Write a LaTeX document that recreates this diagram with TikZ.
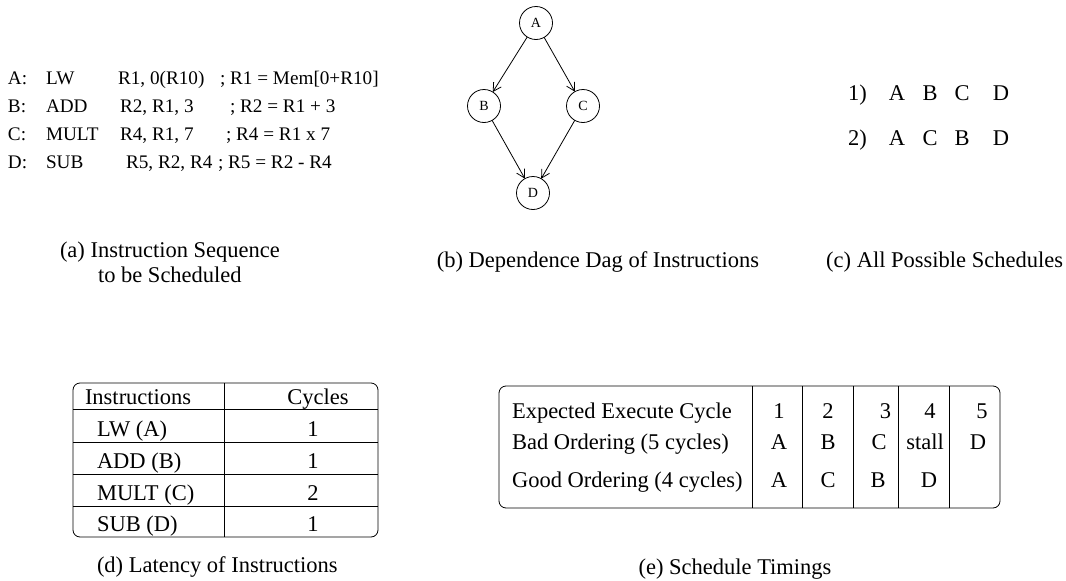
\documentclass[tikz,border=0pt]{standalone}
\usepackage{fontspec}
\setmainfont{Liberation Serif}
\usetikzlibrary{arrows.meta}
\begin{document}
\begin{tikzpicture}[x=1pt,y=-1pt,
  every node/.style={inner sep=0pt,outer sep=0pt},
  code/.style={font=\fontsize{19.2}{23}\selectfont,anchor=base west},
  txt/.style={font=\fontsize{22.5}{26}\selectfont},
  lft/.style={txt,anchor=base west},
  mid/.style={txt,anchor=base},
  rgt/.style={txt,anchor=base east},
  dagnode/.style={circle,draw,line width=0.8pt,minimum size=33pt,font=\fontsize{14}{16}\selectfont},
  dep/.style={line width=0.8pt,-{Straight Barb[length=8pt,width=9pt]}},
  frame/.style={line width=0.8pt,rounded corners=7pt},
  rule/.style={line width=0.8pt}]
\useasboundingbox (0,0) rectangle (1066,581);

% (a) instruction sequence
\node[code] (aL)  at (8,84)   {A:};
\node[code] (aOp) at (46,84)  {LW};
\node[code] (aAr) at (118,84) {R1, 0(R10)};
\node[code] (aCm) at (220,84) {; R1 = Mem[0+R10]};
\node[code] (bL)  at (8,112)   {B:};
\node[code] (bOp) at (46,112)  {ADD};
\node[code] (bAr) at (120,112) {R2, R1, 3};
\node[code] (bCm) at (230,112) {; R2 = R1 + 3};
\node[code] (cL)  at (8,140)   {C:};
\node[code] (cOp) at (46,140)  {MULT};
\node[code] (cAr) at (120,140) {R4, R1, 7};
\node[code] (cCm) at (226,140) {; R4 = R1 x 7};
\node[code] (dL)  at (8,168)   {D:};
\node[code] (dOp) at (46,168)  {SUB};
\node[code] (dAr) at (126,168) {R5, R2, R4};
\node[code] (dCm) at (218,168) {; R5 = R2 - R4};
\node[lft] (capa1) at (60,257) {(a) Instruction Sequence};
\node[lft] (capa2) at (98,282) {to be Scheduled};

% (b) dependence DAG
\node[dagnode] (A) at (536,23)  {A};
\node[dagnode] (B) at (484,106) {B};
\node[dagnode] (C) at (583,106) {C};
\node[dagnode] (D) at (533,193) {D};
\draw[dep] (A) -- (B);
\draw[dep] (A) -- (C);
\draw[dep] (B) -- (D);
\draw[dep] (C) -- (D);
\node[mid] (capb) at (598,267) {(b) Dependence Dag of Instructions};

% (c) schedules
\node[lft] (s1) at (848,100) {1)};
\node[mid] (s1a) at (897,100) {A};
\node[mid] (s1b) at (930,100) {B};
\node[mid] (s1c) at (962,100) {C};
\node[mid] (s1d) at (1001,100) {D};
\node[lft] (s2) at (848,145) {2)};
\node[mid] (s2a) at (897,145) {A};
\node[mid] (s2b) at (930,145) {C};
\node[mid] (s2c) at (962,145) {B};
\node[mid] (s2d) at (1001,145) {D};
\node[rgt] (capc) at (1063,267) {(c) All Possible Schedules};

% (d) latency table
\draw[frame] (73,383) rectangle (378,537);
\draw[rule] (73,409) -- (378,409);
\draw[rule] (73,442) -- (378,442);
\draw[rule] (73,474) -- (378,474);
\draw[rule] (73,506) -- (378,506);
\draw[rule] (224,383) -- (224,537);
\node[lft] (dh1) at (85,404) {Instructions};
\node[mid] (dh2) at (318,404) {Cycles};
\node[lft] (d1) at (97,436) {LW (A)};
\node[mid] (d1c) at (313,436) {1};
\node[lft] (d2) at (97,468) {ADD (B)};
\node[mid] (d2c) at (313,468) {1};
\node[lft] (d3) at (97,500) {MULT (C)};
\node[mid] (d3c) at (313,500) {2};
\node[lft] (d4) at (97,531) {SUB (D)};
\node[mid] (d4c) at (313,531) {1};
\node[lft] (capd) at (97,572) {(d) Latency of Instructions};

% (e) schedule timings
\draw[frame] (499,386) rectangle (1000,508);
\foreach \xx in {752,802,853,898,949} \draw[rule] (\xx,386) -- (\xx,508);
\node[lft] (e1) at (512,418) {Expected Execute Cycle};
\node[lft] (e2) at (512,449) {Bad Ordering (5 cycles)};
\node[lft] (e3) at (512,487) {Good Ordering (4 cycles)};
\node[mid] (e11) at (779,418) {1};
\node[mid] (e12) at (828,418) {2};
\node[rgt] (e13) at (891,418) {3};
\node[mid] (e14) at (930,418) {4};
\node[mid] (e15) at (982,418) {5};
\node[mid] (e21) at (779,449) {A};
\node[mid] (e22) at (828,449) {B};
\node[mid] (e23) at (879,449) {C};
\node[mid] (e24) at (925,449) {stall};
\node[mid] (e25) at (978,449) {D};
\node[mid] (e31) at (779,487) {A};
\node[mid] (e32) at (828,487) {C};
\node[mid] (e33) at (878,487) {B};
\node[mid] (e34) at (929,487) {D};
\node[mid] (cape) at (735,574) {(e) Schedule Timings};
\end{tikzpicture}
\end{document}
